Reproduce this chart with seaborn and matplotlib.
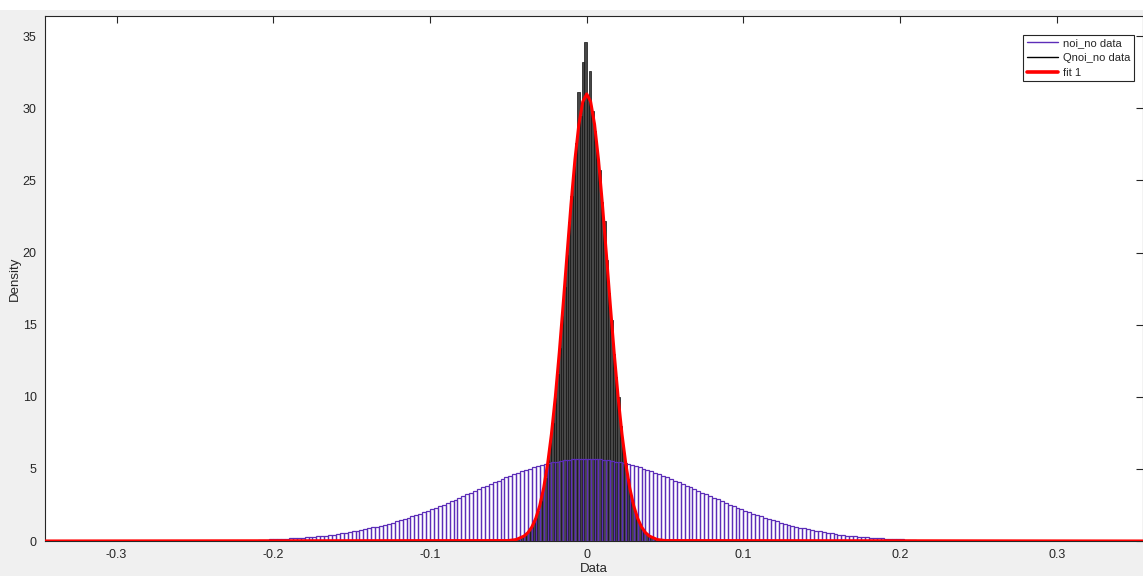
import numpy as np
import pandas as pd
import matplotlib
matplotlib.use("Agg")
import matplotlib.pyplot as plt
from matplotlib.lines import Line2D
from matplotlib.patches import Rectangle
import seaborn as sns

# ---------------- data ----------------
# purple histogram "noi_no data": bins of width 0.0025 from -0.21 to 0.21
noi_start = -0.21
noi_width = 0.0025
noi_heights = [
    0.08, 0.09, 0.10, 0.11, 0.12, 0.14, 0.15, 0.16, 0.18, 0.19,
    0.21, 0.23, 0.25, 0.28, 0.30, 0.32, 0.36, 0.38, 0.42, 0.45,
    0.49, 0.53, 0.57, 0.61, 0.66, 0.71, 0.76, 0.81, 0.87, 0.94,
    0.99, 1.07, 1.13, 1.21, 1.27, 1.36, 1.45, 1.52, 1.62, 1.70,
    1.79, 1.90, 2.00, 2.10, 2.20, 2.32, 2.41, 2.53, 2.64, 2.77,
    2.87, 3.00, 3.12, 3.23, 3.36, 3.47, 3.60, 3.71, 3.84, 3.95,
    4.07, 4.19, 4.30, 4.41, 4.52, 4.63, 4.73, 4.83, 4.92, 5.02,
    5.10, 5.18, 5.26, 5.33, 5.39, 5.46, 5.51, 5.55, 5.60, 5.63,
    5.66, 5.68, 5.69, 5.70,
    5.70, 5.69, 5.67, 5.66, 5.62, 5.60, 5.55, 5.50, 5.46, 5.39,
    5.33, 5.26, 5.18, 5.10, 5.02, 4.92, 4.83, 4.73, 4.62, 4.52,
    4.41, 4.30, 4.19, 4.07, 3.96, 3.84, 3.72, 3.60, 3.48, 3.35,
    3.24, 3.11, 3.00, 2.88, 2.76, 2.65, 2.53, 2.42, 2.31, 2.21,
    2.10, 2.00, 1.89, 1.80, 1.71, 1.61, 1.53, 1.44, 1.36, 1.28,
    1.21, 1.13, 1.06, 1.00, 0.93, 0.87, 0.82, 0.76, 0.71, 0.66,
    0.61, 0.57, 0.53, 0.49, 0.45, 0.42, 0.38, 0.35, 0.33, 0.30,
    0.28, 0.25, 0.23, 0.21, 0.19, 0.18, 0.16, 0.15, 0.13, 0.12,
    0.11, 0.10, 0.09, 0.08,
]

# black histogram "Qnoi_no data": bins of width 0.0015 from -0.045 to 0.045
qnoi_start = -0.045
qnoi_width = 0.0015
qnoi_heights = [
    0.10, 0.16, 0.24, 0.38, 0.52, 0.70, 0.95, 1.25, 1.60, 2.10,
    2.75, 3.50, 4.40, 5.60, 6.80, 8.20, 9.90, 11.6, 13.4, 15.6,
    17.6, 19.8, 22.1, 23.9, 26.0, 27.6, 31.1, 29.5, 33.2, 34.6,
    30.8, 32.6, 29.8, 28.4, 27.0, 25.7, 23.5, 22.2, 19.5, 17.2,
    15.3, 13.0, 11.4, 10.0, 8.0, 6.6, 5.4, 4.3, 3.5, 2.7,
    2.1, 1.6, 1.2, 0.9, 0.65, 0.48, 0.34, 0.24, 0.17, 0.11,
]

# red "fit 1" curve
fit_x = [-0.36, -0.05, -0.045, -0.04, -0.0375, -0.035, -0.0325, -0.03, -0.0275,
         -0.025, -0.0225, -0.02, -0.0175, -0.015, -0.0125, -0.01, -0.0075,
         -0.005, -0.0025, 0.0, 0.0025, 0.005, 0.0075, 0.01, 0.0125, 0.015,
         0.0175, 0.02, 0.0225, 0.025, 0.0275, 0.03, 0.0325, 0.035, 0.0375,
         0.04, 0.045, 0.05, 0.36]
fit_y = [0.0, 0.03, 0.10, 0.34, 0.58, 0.97, 1.57, 2.44, 3.66,
         5.30, 7.42, 10.02, 13.07, 16.43, 19.94, 23.37, 26.45,
         28.89, 30.46, 31.0, 30.46, 28.89, 26.45, 23.37, 19.94, 16.43,
         13.07, 10.02, 7.42, 5.30, 3.66, 2.44, 1.57, 0.97, 0.58,
         0.34, 0.10, 0.03, 0.0]

x_ticks = [-0.3, -0.2, -0.1, 0, 0.1, 0.2, 0.3]
x_tick_labels = ["-0.3", "-0.2", "-0.1", "0", "0.1", "0.2", "0.3"]
y_ticks = [0, 5, 10, 15, 20, 25, 30, 35]
legend_labels = ["noi_no data", "Qnoi_no data", "fit 1"]

# ---------------- plot ----------------
sns.set_style("white")
plt.rcParams["font.family"] = ["Liberation Sans", "DejaVu Sans"]

W, H = 1143, 576
fig = plt.figure(figsize=(W / 100, H / 100), dpi=100, facecolor="#f0f0f0")
fig.patches.append(Rectangle((0, 1 - 10 / H), 1, 10 / H, transform=fig.transFigure,
                             facecolor="white", edgecolor="none", zorder=-1))
ax = fig.add_axes([45 / W, 35 / H, 1 - 45 / W, (541 - 16) / H])
ax.set_facecolor("white")

purple = "#5c2db8"

qnoi_edges = qnoi_start + qnoi_width * np.arange(len(qnoi_heights) + 1)
qnoi_df = pd.DataFrame({"x": (qnoi_edges[:-1] + qnoi_edges[1:]) / 2,
                        "w": qnoi_heights})
sns.histplot(data=qnoi_df, x="x", weights="w", bins=list(qnoi_edges), stat="count",
             color="#474747", edgecolor="#111111", linewidth=0.5, alpha=1.0,
             ax=ax, zorder=2)

noi_edges = noi_start + noi_width * np.arange(len(noi_heights) + 1)
noi_df = pd.DataFrame({"x": (noi_edges[:-1] + noi_edges[1:]) / 2,
                       "w": noi_heights})
sns.histplot(data=noi_df, x="x", weights="w", bins=list(noi_edges), stat="count",
             fill=False, color=purple, linewidth=0.9, ax=ax, zorder=3)

fit_df = pd.DataFrame({"x": fit_x, "y": fit_y})
sns.lineplot(data=fit_df, x="x", y="y", color="#ff0000", linewidth=2.2, ax=ax,
             zorder=4, estimator=None, sort=False)

ax.set_xlim(-0.3457, 0.355)
ax.set_ylim(0, 36.4)
ax.set_xticks(x_ticks)
ax.set_xticklabels(x_tick_labels)
ax.set_yticks(y_ticks)
ax.tick_params(axis="both", direction="in", length=5, width=0.8, colors="#262626",
               labelsize=9, top=True, right=True, pad=6)
for s in ax.spines.values():
    s.set_color("#262626")
    s.set_linewidth(0.8)
ax.set_xlabel("Data", fontsize=9.5, color="#262626", labelpad=1)
ax.set_ylabel("Density", fontsize=9.5, color="#262626", labelpad=1)

handles = [Line2D([], [], color=purple, linewidth=1.0),
           Line2D([], [], color="black", linewidth=1.0),
           Line2D([], [], color="#ff0000", linewidth=2.6)]
leg = ax.legend(handles, legend_labels, loc="upper right", fontsize=8,
                frameon=True, fancybox=False, framealpha=1, edgecolor="#262626",
                handlelength=2.8, handletextpad=0.5, borderpad=0.3,
                labelspacing=0.45, bbox_to_anchor=(0.997, 0.975))
leg.get_frame().set_linewidth(0.8)

fig.savefig("out.png", dpi=100, facecolor=fig.get_facecolor())
